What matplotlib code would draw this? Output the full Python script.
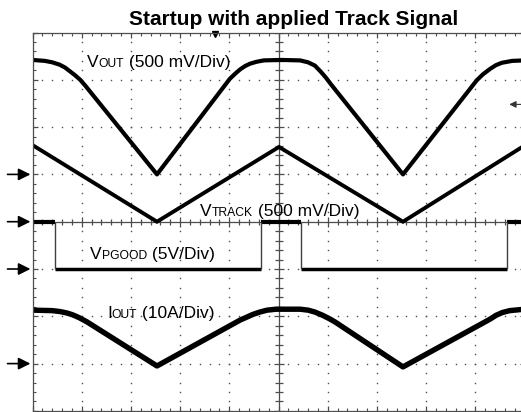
import numpy as np
import matplotlib
matplotlib.use("Agg")
import matplotlib.pyplot as plt
from matplotlib.ticker import MultipleLocator

plt.rcParams['font.family'] = ['Liberation Sans', 'DejaVu Sans']

# ---------------- data (divisions) ----------------
title = "Startup with applied Track Signal"

vout_x = [0, 0.25, 0.40, 0.55, 0.66, 0.76, 0.86, 0.97, 1.07, 2.53,
          4.01, 4.12, 4.22, 4.32, 4.42, 4.55, 4.70, 5.05,
          5.44, 5.60, 5.74, 5.86, 5.96, 6.07, 7.53,
          9.03, 9.16, 9.30, 9.42, 9.54, 9.75, 10.0]
vout_y = [3.42, 3.40, 3.37, 3.32, 3.26, 3.18, 3.10, 3.00, 2.88, 1.00,
          3.02, 3.13, 3.22, 3.29, 3.34, 3.38, 3.41, 3.42,
          3.41, 3.37, 3.30, 3.17, 3.05, 2.90, 1.00,
          2.99, 3.12, 3.23, 3.31, 3.36, 3.40, 3.41]

vtrack_x = [0, 2.53, 5.01, 7.53, 10.0]
vtrack_y = [1.62, 0.0, 1.58, 0.0, 1.61]

pgood_edges = [0.46, 4.64, 5.46, 9.64]   # fall, rise, fall, rise
pgood_high = 0.0
pgood_low = -1.0

iout_x = [0, 0.40, 0.56, 0.70, 0.82, 0.95, 1.11, 2.53,
          4.22, 4.35, 4.48, 4.62, 4.77, 4.95, 5.44, 5.60, 5.74, 5.90, 6.05, 6.15, 7.53,
          9.16, 9.30, 9.42, 9.55, 9.70, 10.0]
iout_y = [-1.87, -1.88, -1.90, -1.93, -1.97, -2.03, -2.12, -3.05,
          -2.08, -2.02, -1.96, -1.91, -1.87, -1.85, -1.85, -1.87, -1.91, -1.98, -2.06, -2.12, -3.07,
          -2.14, -2.06, -1.98, -1.92, -1.88, -1.85]

ground_levels = [1, 0, -1, -3]
trigger_pos = 3.7
trigger_level = 2.48

labels = [  # (main, sub, rest, x_px, baseline_px)
    ("V", "OUT", " (500 mV/Div)", 87, 67),
    ("V", "TRACK", " (500 mV/Div)", 200, 216),
    ("V", "PGOOD", " (5V/Div)", 90, 259),
    ("I", "OUT", " (10A/Div)", 107, 318),
]

# ---------------- figure ----------------
W, H = 521, 412
fig = plt.figure(figsize=(W / 100, H / 100), dpi=100)
left_px, top_px, div_w, div_h = 32.5, 32.5, 49.2, 47.3
ax = fig.add_axes([left_px / W, (H - top_px - 8 * div_h) / H, 10 * div_w / W, 8 * div_h / H])
ax.set_xlim(0, 10)
ax.set_ylim(-4, 4)

gc = '0.3'
for s in ax.spines.values():
    s.set_color(gc)
    s.set_linewidth(0.9)
ax.xaxis.set_major_locator(MultipleLocator(1))
ax.xaxis.set_minor_locator(MultipleLocator(0.2))
ax.yaxis.set_major_locator(MultipleLocator(1))
ax.yaxis.set_minor_locator(MultipleLocator(0.2))
ax.tick_params(which='both', direction='in', top=True, right=True,
               labelbottom=False, labelleft=False, color=gc)
ax.tick_params(which='major', length=3.8, width=0.9)
ax.tick_params(which='minor', length=2.3, width=0.8)

# dotted graticule
dots = np.arange(0, 10.001, 0.2)
dots_y = np.arange(-4, 4.001, 0.2)
for gx in [1, 2, 3, 4, 6, 7, 8, 9]:
    ax.plot(np.full_like(dots_y, gx), dots_y, ls='none', marker='s', ms=1.0,
            color='0.3', mew=0)
for gy in [-3, -2, -1, 1, 2, 3]:
    ax.plot(dots, np.full_like(dots, gy), ls='none', marker='s', ms=1.0,
            color='0.3', mew=0)

# centre cross with ticks
ax.axhline(0, color=gc, lw=0.9)
ax.axvline(5, color=gc, lw=0.9)
minor_x = [v for v in dots if abs(v - round(v)) > 1e-6]
major_x = [v for v in range(0, 11)]
minor_y = [v for v in dots_y if abs(v - round(v)) > 1e-6]
major_y = [v for v in range(-4, 5)]
ax.plot(minor_x, np.zeros(len(minor_x)), ls='none', marker='|', ms=5, mew=0.9, color=gc)
ax.plot(major_x, np.zeros(len(major_x)), ls='none', marker='|', ms=7.5, mew=0.9, color=gc)
ax.plot(np.full(len(minor_y), 5), minor_y, ls='none', marker='_', ms=5.5, mew=0.9, color=gc)
ax.plot(np.full(len(major_y), 5), major_y, ls='none', marker='_', ms=7.5, mew=0.9, color=gc)

# traces
ax.plot(vtrack_x, vtrack_y, color='black', lw=2.8, solid_joinstyle='miter')
ax.plot(vout_x, vout_y, color='black', lw=3.0, solid_joinstyle='round')
ax.plot(iout_x, iout_y, color='black', lw=3.9, solid_joinstyle='round')

# PGOOD step
bounds = [0.0] + pgood_edges + [10.0]
levels = [pgood_high, pgood_low, pgood_high, pgood_low, pgood_high]
for i, lv in enumerate(levels):
    ax.hlines(lv, bounds[i], bounds[i + 1], color='black', lw=2.5 if lv == pgood_low else 3.0)
ax.vlines(pgood_edges, pgood_low, pgood_high, color='0.25', lw=1.0)

# ground markers
for g in ground_levels:
    ax.annotate('', xy=(0, g), xycoords='data', xytext=(-25, 0), textcoords='offset pixels',
                arrowprops=dict(arrowstyle='-|>,head_length=0.6,head_width=0.3',
                                mutation_scale=12, lw=1.2, color='black',
                                shrinkA=0, shrinkB=1.5),
                annotation_clip=False)

# trigger position marker (top)
ax.plot([trigger_pos], [3.96], marker='v', ms=5, color='black', clip_on=False)
# trigger level marker (right)
ax.annotate('', xy=(9.69, trigger_level), xytext=(9.94, trigger_level),
            arrowprops=dict(arrowstyle='-|>,head_length=0.5,head_width=0.25',
                            mutation_scale=8, lw=0.8, color='0.2', shrinkA=0, shrinkB=0),
            annotation_clip=False)

# title
fig.text(294 / W, 1 - 25 / H, title, ha='center', va='baseline', fontsize=15,
         fontweight='bold')

# labels with small-caps style subscripts
fs = 12.5
renderer = fig.canvas.get_renderer()
for main, sub, rest, xp, bp in labels:
    y = 1 - bp / H
    t1 = fig.text(xp / W, y, main, fontsize=fs, va='baseline', ha='left')
    x1 = t1.get_window_extent(renderer).x1
    t2 = fig.text(x1 / W, y, sub, fontsize=fs * 0.7, va='baseline', ha='left')
    x2 = t2.get_window_extent(renderer).x1
    fig.text(x2 / W, y, rest, fontsize=fs, va='baseline', ha='left')

fig.savefig('out.png', dpi=100, facecolor='white')
